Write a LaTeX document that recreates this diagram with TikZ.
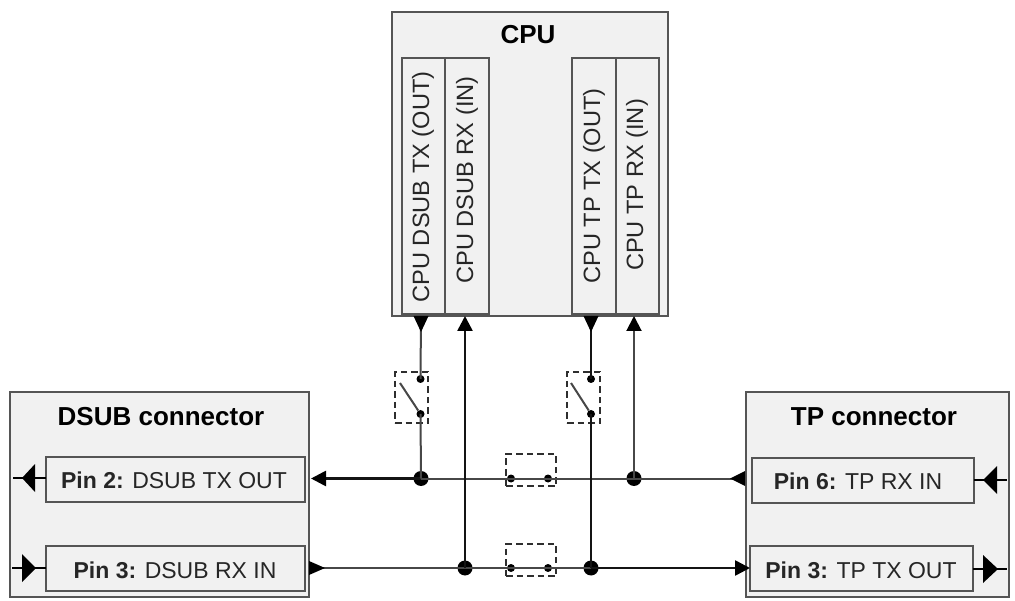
\documentclass[tikz,border=0pt]{standalone}
\usepackage{fontspec}
\setmainfont{Liberation Sans}
\usetikzlibrary{arrows.meta,calc}
\definecolor{boxfill}{HTML}{F1F1F1}
\definecolor{boxline}{HTML}{555555}
\tikzset{
  x=1pt,y=-1pt,
  box/.style={draw=boxline,fill=boxfill,line width=1.6pt,inner sep=0pt,outer sep=0pt,anchor=north west},
  txt/.style={font=\fontsize{23}{26}\selectfont,text=black!85,inner sep=0pt},
  title/.style={font=\fontsize{26}{29}\selectfont\bfseries,text=black,inner sep=0pt},
  vert/.style={font=\fontsize{23.6}{26}\selectfont,text=black!85,inner sep=0pt,rotate=90},
  wire/.style={draw=black!72,line width=2pt},
  heavy/.style={draw=black!92,line width=2.6pt},
  tipl/.style={-{Triangle[length=15pt,width=15pt,sep=0pt,fill=black,color=black]}},
  bigstub/.style={draw=black,line width=1.8pt},
  joint/.style={circle,fill=black,inner sep=0pt,minimum size=15pt},
  pole/.style={circle,fill=black,inner sep=0pt,minimum size=8pt},
  dbox/.style={draw=black!82,line width=2pt,dash pattern=on 6.5pt off 4pt,inner sep=0pt,anchor=north west},
}
\begin{document}
\begin{tikzpicture}
\useasboundingbox (0,0) rectangle (1015,601);
% CPU
\node[box,minimum width=276pt,minimum height=304pt] (cpu) at (392,12) {};
\node[title] (cputitle) at (528,35) {CPU};
\node[box,minimum width=43pt,minimum height=256pt] (c1) at (402,58) {};
\node[box,minimum width=44pt,minimum height=256pt] (c2) at (445,58) {};
\node[box,minimum width=44pt,minimum height=256pt] (c3) at (572,58) {};
\node[box,minimum width=43pt,minimum height=256pt] (c4) at (616,58) {};
\node[vert] (c1t) at (423,187) {CPU DSUB TX (OUT)};
\node[vert] (c2t) at (467,180) {CPU DSUB RX (IN)};
\node[vert] (c3t) at (594,186) {CPU TP TX (OUT)};
\node[vert] (c4t) at (637,185) {CPU TP RX (IN)};
% connectors boxes
\node[box,minimum width=299pt,minimum height=205pt] (dsub) at (10,392) {};
\node[title] (dsubt) at (161,417) {DSUB connector};
\node[box,minimum width=259pt,minimum height=45pt] (p2) at (46,457) {};
\node[box,minimum width=259pt,minimum height=45pt] (p3) at (46,546) {};
\node[txt] (p2t) at (174,480) {\textbf{Pin 2:} DSUB TX OUT};
\node[txt] (p3t) at (175,570) {\textbf{Pin 3:} DSUB RX IN};
\node[box,minimum width=263pt,minimum height=205pt] (tp) at (746,392) {};
\node[title] (tpt) at (874,417) {TP connector};
\node[box,minimum width=222pt,minimum height=45pt] (p6) at (752,458) {};
\node[box,minimum width=223pt,minimum height=45pt] (p3b) at (750,546) {};
\node[txt] (p6t) at (858,481) {\textbf{Pin 6:} TP RX IN};
\node[txt] (p3bt) at (861,570) {\textbf{Pin 3:} TP TX OUT};
% junction points
\node[joint] (j1) at (421,478.5) {};
\node[joint] (j2) at (634,478.5) {};
\node[joint] (j3) at (465,568) {};
\node[joint] (j4) at (591,568) {};
% switch boxes
\node[dbox,minimum width=33pt,minimum height=51pt] (s1) at (394,371) {};
\node[dbox,minimum width=33pt,minimum height=51pt] (s2) at (566,371) {};
\node[dbox,minimum width=50pt,minimum height=32pt] (s3) at (505,453) {};
\node[dbox,minimum width=50pt,minimum height=32pt] (s4) at (505,543) {};
\node[pole] (a1) at (420.5,379) {};
\node[pole] (a2) at (420.5,414) {};
\node[pole] (b1) at (591,379) {};
\node[pole] (b2) at (591,414) {};
\node[pole] (e1) at (511,478.5) {};
\node[pole] (e2) at (548,478.5) {};
\node[pole] (f1) at (511,568) {};
\node[pole] (f2) at (548,568) {};
\coordinate (a0) at (400,383);
\coordinate (b0) at (571,383);
\draw[wire] (a0) -- (a2);
\draw[wire] (b0) -- (b2);
% horizontal wires
\coordinate (l2) at (311,478.5);
\coordinate (r2) at (745,478.5);
\coordinate (l3) at (309,568);
\coordinate (r3) at (746,568);
\draw[heavy,tipl] (j1.center) -- (l2);
\draw[wire] (j1.center) -- (j2.center);
\draw[wire] (j2.center) -- (r2);
\path[fill=black] (745,471) -- (730,478.5) -- (745,486) -- cycle;
\draw[wire] (l3) -- (j3.center) -- (j4.center);
\draw[heavy,tipl] (j4.center) -- (p3b.west|-r3);
% tip at source of lower line
\path[fill=black] (309,561) -- (325,568) -- (309,575) -- cycle;
% vertical wires
\coordinate (t1) at (421,316);
\coordinate (t3) at (591,316);
\draw[wire] (a2.center) -- (j1.center);
\draw[wire] (t1) -- (a1.center);
\path[fill=black] (413.5,316) -- (428.5,316) -- (421,332) -- cycle;
\draw[heavy] (b2.center) -- (j4.center);
\draw[heavy] (t3) -- (b1.center);
\path[fill=black] (583.5,316) -- (598.5,316) -- (591,332) -- cycle;
\draw[heavy,tipl] (j3.center) -- (j3.center|-cpu.south);
\draw[wire,tipl] (j2.center) -- (j2.center|-cpu.south);
% pin stubs
\coordinate (o2) at (13,478);
\coordinate (o3) at (12,568);
\coordinate (o6) at (1007,480);
\coordinate (o3b) at (1007,569);
\draw[bigstub] (o2) -- (p2.west|-o2);
\path[fill=black] (22,478) -- (35,464) -- (35,492) -- cycle;
\draw[bigstub] (o3) -- (p3.west|-o3);
\path[fill=black] (22,554) -- (36,568) -- (22,582) -- cycle;
\draw[bigstub] (p6.east|-o6) -- (o6);
\path[fill=black] (983,480) -- (997,466) -- (997,494) -- cycle;
\draw[bigstub] (p3b.east|-o3b) -- (o3b);
\path[fill=black] (983,555) -- (998,569) -- (983,583) -- cycle;
\end{tikzpicture}
\end{document}
